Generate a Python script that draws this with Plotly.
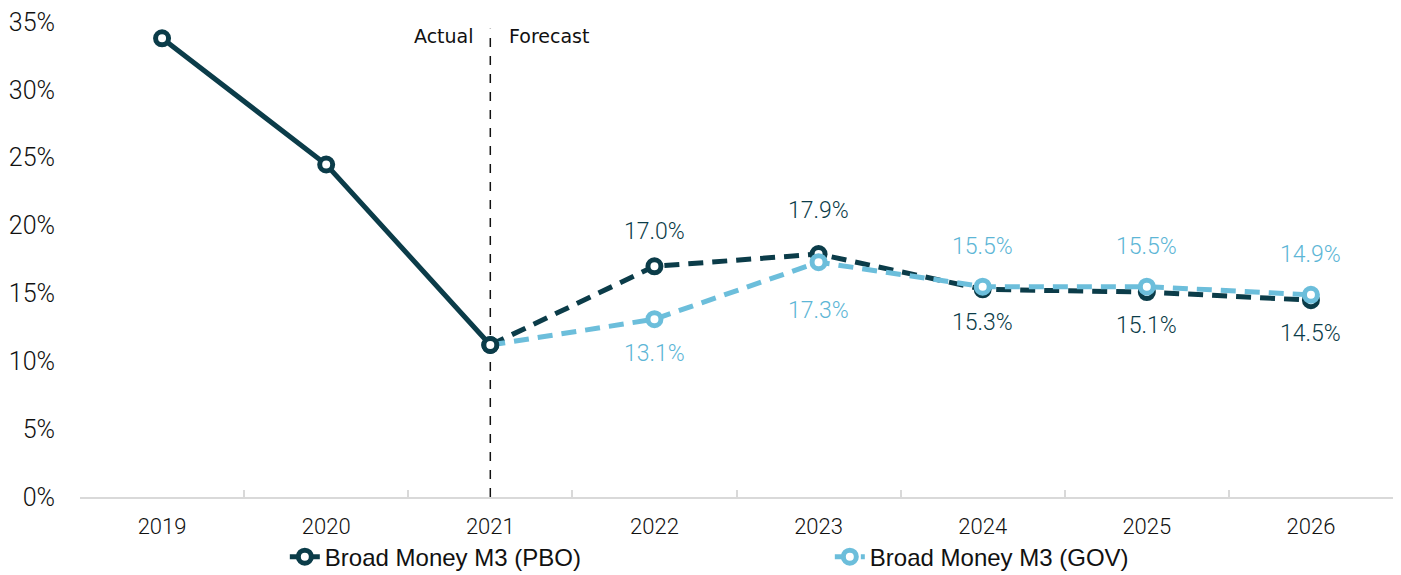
import plotly.graph_objects as go

years = ["2019", "2020", "2021", "2022", "2023", "2024", "2025", "2026"]
actual_years = ["2019", "2020", "2021"]
forecast_years = ["2021", "2022", "2023", "2024", "2025", "2026"]
pbo_actual = [33.8, 24.5, 11.2]
pbo_forecast = [11.2, 17.0, 17.9, 15.3, 15.1, 14.5]
gov_forecast = [11.2, 13.1, 17.3, 15.5, 15.5, 14.9]
y_ticks = [0, 5, 10, 15, 20, 25, 30, 35]

PBO = "#0B3C49"
GOV = "#6CBEDB"
GOV_TXT = "#5DB6D6"

fig = go.Figure()

marker_pbo = dict(symbol="circle", size=13, color="white", line=dict(color=PBO, width=5))
marker_gov = dict(symbol="circle", size=13, color="white", line=dict(color=GOV, width=5))
DASH = "15px,9px"

fig.add_trace(go.Scatter(
    x=forecast_years, y=pbo_forecast, mode="lines+markers",
    line=dict(color=PBO, width=5, dash=DASH), marker=marker_pbo,
    showlegend=False, hoverinfo="skip"))
fig.add_trace(go.Scatter(
    x=forecast_years, y=gov_forecast, mode="lines",
    line=dict(color=GOV, width=5, dash=DASH),
    showlegend=False, hoverinfo="skip"))
fig.add_trace(go.Scatter(
    x=forecast_years[1:], y=gov_forecast[1:], mode="markers",
    marker=marker_gov, showlegend=False, hoverinfo="skip"))
fig.add_trace(go.Scatter(
    x=actual_years, y=pbo_actual, mode="lines+markers",
    line=dict(color=PBO, width=5), marker=marker_pbo,
    name="Broad Money M3 (PBO)"))
fig.add_trace(go.Scatter(
    x=[None], y=[None], mode="lines+markers",
    line=dict(color=GOV, width=5, dash="8px,5px"), marker=marker_gov,
    name="Broad Money M3 (GOV)"))

pbo_shift = [0, 35, 44, -33, -33, -33]
gov_shift = [0, -34, -48, 40, 40, 40]
for i, yr in enumerate(forecast_years):
    if i == 0:
        continue
    xi = years.index(yr)
    fig.add_annotation(x=xi, y=pbo_forecast[i], text=f"{pbo_forecast[i]:.1f}%",
                       showarrow=False, yshift=pbo_shift[i],
                       font=dict(family="Roboto Light, Roboto", size=23, color=PBO))
    fig.add_annotation(x=xi, y=gov_forecast[i], text=f"{gov_forecast[i]:.1f}%",
                       showarrow=False, yshift=gov_shift[i],
                       font=dict(family="Roboto Light, Roboto", size=23, color=GOV_TXT))

x_split = years.index("2021")
note_font = dict(family="DejaVu Sans ExtraLight, DejaVu Sans", size=19, color="#111111")
fig.add_annotation(x=x_split, y=34.0, text="Actual", xanchor="right", xshift=-14,
                   showarrow=False, font=note_font)
fig.add_annotation(x=x_split, y=34.0, text="Forecast", xanchor="left", xshift=17,
                   showarrow=False, font=note_font)
fig.add_shape(type="line", x0=x_split, x1=x_split, y0=0, y1=34.5,
              line=dict(color="#111111", width=1.5, dash="dash"), layer="below")

fig.update_layout(
    width=1401, height=575,
    paper_bgcolor="white", plot_bgcolor="white",
    margin=dict(l=72, r=16, t=14, b=86),
    font=dict(family="Roboto", size=21, color="#111111"),
    legend=dict(orientation="h", x=0.156, xanchor="left", yref="container", y=0.045,
                yanchor="middle", entrywidth=500,
                font=dict(family="Liberation Sans", size=24, color="#111111")),
)
fig.update_xaxes(type="category", categoryorder="array", categoryarray=years,
                 range=[-0.5, 7.5], showline=True, linecolor="#D9D9D9", linewidth=2,
                 ticks="inside", ticklen=7, tickcolor="#D9D9D9", tickwidth=2,
                 tickson="boundaries", showgrid=False, zeroline=False,
                 ticklabelstandoff=9, automargin=False,
                 tickfont=dict(family="Roboto", size=22, weight=300))
fig.update_yaxes(range=[0, 35], tickvals=y_ticks, ticktext=[f"{v}%" for v in y_ticks],
                 showgrid=False, zeroline=False, showline=False,
                 ticks="outside", ticklen=19, tickcolor="rgba(0,0,0,0)", automargin=False,
                 ticklabeloverflow="allow",
                 tickfont=dict(family="Roboto", size=25, weight=300))

fig.write_html("out.html")
